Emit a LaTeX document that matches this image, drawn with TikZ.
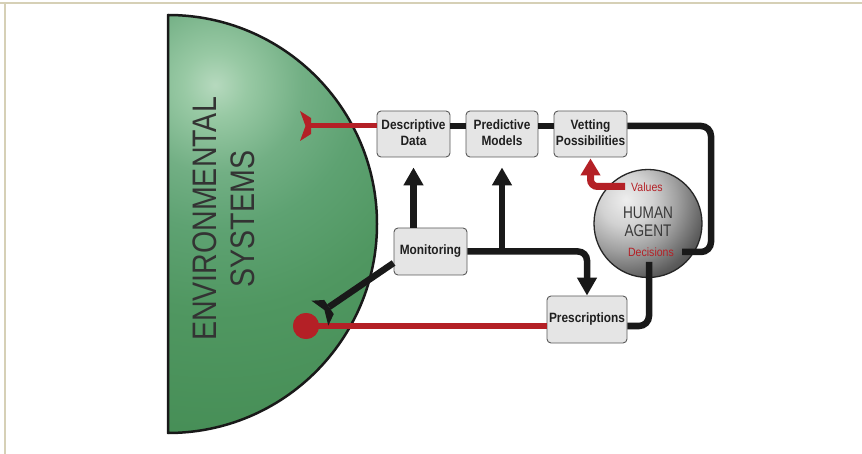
\documentclass[tikz,border=0pt]{standalone}
\usepackage{fontspec}
\setmainfont{Liberation Sans}
\usepackage{graphicx}
\usetikzlibrary{arrows.meta}
\definecolor{myred}{RGB}{180,32,38}
\definecolor{boxfill}{RGB}{229,229,229}
\definecolor{boxdraw}{RGB}{90,90,90}
\definecolor{framecol}{RGB}{214,208,182}
\definecolor{gA}{RGB}{182,217,190}
\definecolor{gB}{RGB}{152,201,164}
\definecolor{gC}{RGB}{114,175,132}
\definecolor{gD}{RGB}{94,162,114}
\definecolor{gE}{RGB}{80,151,97}
\definecolor{gF}{RGB}{70,142,86}
\definecolor{sA}{RGB}{238,238,238}
\definecolor{sB}{RGB}{210,210,210}
\definecolor{sC}{RGB}{160,160,160}
\definecolor{sD}{RGB}{92,92,92}
\definecolor{sE}{RGB}{60,60,60}
\pgfdeclareradialshading{envshade}{\pgfpoint{0bp}{0bp}}{color(0bp)=(gA); color(2.2bp)=(gB); color(6.1bp)=(gC); color(10bp)=(gD); color(15.6bp)=(gE); color(25bp)=(gF); color(50bp)=(gF)}
\pgfdeclareradialshading{sphshade}{\pgfpoint{0bp}{0bp}}{color(0bp)=(sA); color(6.5bp)=(sB); color(12.75bp)=(sC); color(20bp)=(sD); color(25.5bp)=(sE); color(50bp)=(sE)}
\newcommand{\hsq}[2]{\scalebox{#1}[1]{#2}}
\tikzset{
  box/.style={draw=boxdraw, fill=boxfill, line width=0.9pt, rounded corners=4pt, inner sep=0pt,
    font=\bfseries\fontsize{13.5}{16}\selectfont, text=black!88},
  blk/.style={line width=6.5pt, draw=black!90},
  blkarrow/.style={blk, -{Triangle[width=19pt,length=18pt]}},
  redl/.style={line width=5pt, draw=myred},
  redarrow/.style={line width=7pt, draw=myred, -{Triangle[width=19pt,length=17pt]}},
  smallred/.style={font=\fontsize{12}{14}\selectfont, text=myred, inner sep=0pt}
}
\begin{document}
\begin{tikzpicture}[x=1pt,y=-1pt]
\useasboundingbox (0,0) rectangle (862,454);
\fill[white] (0,0) rectangle (862,454);
% frame
\draw[framecol, line width=2pt] (0,3) -- (862,3);
\draw[framecol, line width=2pt] (5,3) -- (5,454);
% environmental half disk
\begin{scope}
  \clip (168,15) arc[start angle=90, end angle=-90, radius=209pt] -- cycle;
  \fill[gF] (160,0) rectangle (400,454);
  \shade[shading=envshade] (215,85) circle[radius=360pt];
\end{scope}
\draw[line width=2.5pt, black!90, line join=round] (168,15) arc[start angle=90, end angle=-90, radius=209pt] -- cycle;
\node[rotate=90, font=\fontsize{34}{38}\selectfont, text=black!80, inner sep=0pt] (env) at (228,219)
  {\hsq{0.84}{\begin{tabular}{@{}c@{}}ENVIRONMENTAL\\SYSTEMS\end{tabular}}};
% human agent sphere
\node[circle, draw=black!85, line width=1.3pt, minimum size=108pt, inner sep=0pt,
  path picture={\shade[shading=sphshade] ([shift={(-22pt,23.5pt)}]path picture bounding box.center) circle[radius=100pt];}]
  (human) at (648,223.5) {};
% boxes
\node[box, minimum width=73pt, minimum height=46pt] (dd) at (413.5,134) {\hsq{0.88}{\begin{tabular}{@{}c@{}}Descriptive\\Data\end{tabular}}};
\node[box, minimum width=72pt, minimum height=46pt] (pm) at (502,134) {\hsq{0.88}{\begin{tabular}{@{}c@{}}Predictive\\Models\end{tabular}}};
\node[box, minimum width=73pt, minimum height=46pt] (vp) at (590.5,134) {\hsq{0.88}{\begin{tabular}{@{}c@{}}Vetting\\Possibilities\end{tabular}}};
\node[box, minimum width=73pt, minimum height=47pt] (mon) at (430.5,251.5) {\hsq{0.88}{Monitoring}};
\node[box, minimum width=80pt, minimum height=47pt] (pre) at (587,319.5) {\hsq{0.88}{Prescriptions}};
% coordinates
\coordinate (fr) at (311,126);
\coordinate (fb) at (329,307);
\coordinate (rc) at (711,252);
\coordinate (hr) at (682,252);
\coordinate (hb) at (649,262);
\coordinate (vs) at (625,186.5);
% top rail
\draw[blk] ([yshift=8pt]dd.east) -- ([yshift=8pt]pm.west);
\draw[blk] ([yshift=8pt]pm.east) -- ([yshift=8pt]vp.west);
\draw[blk, rounded corners=10pt] ([yshift=8pt]vp.east) -| (rc) -- (hr);
\draw[blk, rounded corners=10pt] (hb) |- ([yshift=-6.5pt]pre.east);
% monitoring arrows
\draw[blkarrow] ([xshift=-17pt]mon.north) -- ([yshift=-10pt]dd.south);
\draw[blkarrow] (mon.east -| pm.south) -- ([yshift=-10pt]pm.south);
\draw[blkarrow, rounded corners=9pt] (mon.east) -| (pre.north);
% values arrow
\draw[redarrow, rounded corners=7pt] (vs) -| ([yshift=-1pt]vp.south);
% red sensing line and fork
\draw[redl] ([yshift=8pt]dd.west) -- (fr);
\fill[myred, shift={(fr)}] (-11,-15) -- (0,-8) -- (0,8) -- (-11,15) -- (-5.5,0) -- cycle;
% red effect line and dot
\node[circle, fill=myred, minimum size=26pt, inner sep=0pt] (dot) at (306,326) {};
\draw[redl] (dot.center) -- ([yshift=-6.5pt]pre.west);
\node[circle, fill=myred, minimum size=26pt, inner sep=0pt] at (dot) {};
% black monitoring fork
\draw[blk] (fb) -- ([yshift=-11.5pt]mon.west);
\fill[black!90, shift={(fb)}, rotate=34] (-11,-15) -- (0,-8.5) -- (0,8.5) -- (-11,15) -- (-5.5,0) -- cycle;
% human agent labels
\node[font=\fontsize{16.8}{18}\selectfont, text=black!78, inner sep=0pt] (htxt) at (648,224.4)
  {\hsq{0.81}{\begin{tabular}{@{}c@{}}HUMAN\\AGENT\end{tabular}}};
\node[smallred, anchor=west] (val) at (631,187) {\hsq{0.88}{Values}};
\node[smallred] (dec) at (651,252) {\hsq{0.88}{Decisions}};
\end{tikzpicture}
\end{document}
